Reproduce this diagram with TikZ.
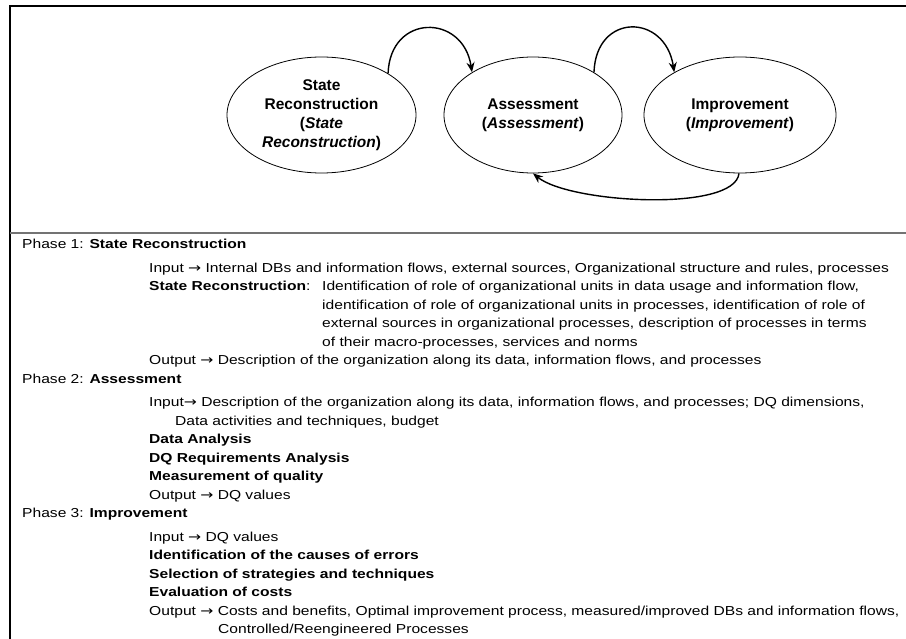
\documentclass[tikz,border=0pt]{standalone}
\usepackage{fontspec}
\setmainfont{Liberation Sans}
\newfontfamily\lowf[FakeStretch=1.2]{Liberation Sans}
\newfontfamily\arrf[FakeStretch=1.2]{DejaVu Sans}
\newcommand{\rarr}{{\arrf →}}
\usetikzlibrary{arrows.meta,shapes.geometric}
\begin{document}
\begin{tikzpicture}[x=1pt,y=1pt,
  frame/.style={line width=1.4pt, black},
  divider/.style={line width=1.6pt, black!55},
  phase/.style={ellipse, draw, line width=0.8pt, inner sep=0pt, minimum height=116pt, align=center, font=\fontsize{15.5}{19}\selectfont\bfseries},
  arr/.style={line width=1.4pt, -{Stealth[length=10pt,width=8pt]}},
  txt/.style={anchor=base west, inner sep=0pt, font=\lowf\fontsize{13}{16}\selectfont},
]
\useasboundingbox (0,0) rectangle (906,-639);
% frame
\coordinate (tl) at (10,-6);
\coordinate (tr) at (906,-6);
\coordinate (bl) at (10,-639);
\coordinate (dl) at (10,-233);
\coordinate (dr) at (906,-233);
\draw[frame] (tr) -- (tl) -- (bl);
\draw[divider] (dl) -- (dr);
% ellipses
\node[phase, minimum width=189pt] (S) at (321.5,-115) {State\\Reconstruction\\(\textit{State}\\\textit{Reconstruction})};
\node[phase, minimum width=178pt] (A) at (533,-115) {Assessment\\(\textit{Assessment})};
\node[phase, minimum width=192pt] (I) at (740,-115) {Improvement\\(\textit{Improvement})};
% arrows
\draw[arr] (S.32) .. controls +(2,60) and +(-9,59) .. (A.145);
\draw[arr] (A.35) .. controls +(2,60) and +(-9,59) .. (I.147);
\draw[arr] (I.-91) .. controls +(-4,-39) and +(37,-30) .. (A.-90);
% text
\node[txt] (l0) at (22,-248.7) {Phase 1: \textbf{State Reconstruction}};
\node[txt] (l1) at (149,-272.2) {Input \rarr{} Internal DBs and information flows, external sources, Organizational structure and rules, processes};
\node[txt] (l2a) at (149,-290.7) {\textbf{State Reconstruction}:};
\node[txt] (l2) at (322,-290.7) {Identification of role of organizational units in data usage and information flow,};
\node[txt] (l3) at (322,-309.2) {identification of role of organizational units in processes, identification of role of};
\node[txt] (l4) at (322,-327.7) {external sources in organizational processes, description of processes in terms};
\node[txt] (l5) at (322,-346.2) {of their macro-processes, services and norms};
\node[txt] (l6) at (149,-364.7) {Output \rarr{} Description of the organization along its data, information flows, and processes};
\node[txt] (l7) at (22,-383.2) {Phase 2: \textbf{Assessment}};
\node[txt] (l8) at (149,-406.7) {Input\rarr{} Description of the organization along its data, information flows, and processes; DQ dimensions,};
\node[txt] (l9) at (175,-425.2) {Data activities and techniques, budget};
\node[txt] (l10) at (149,-443.7) {\textbf{Data Analysis}};
\node[txt] (l11) at (149,-462.2) {\textbf{DQ Requirements Analysis}};
\node[txt] (l12) at (149,-480.7) {\textbf{Measurement of quality}};
\node[txt] (l13) at (149,-499.2) {Output \rarr{} DQ values};
\node[txt] (l14) at (22,-517.7) {Phase 3: \textbf{Improvement}};
\node[txt] (l15) at (149,-541.2) {Input \rarr{} DQ values};
\node[txt] (l16) at (149,-559.7) {\textbf{Identification of the causes of errors}};
\node[txt] (l17) at (149,-578.2) {\textbf{Selection of strategies and techniques}};
\node[txt] (l18) at (149,-596.7) {\textbf{Evaluation of costs}};
\node[txt] (l19) at (149,-615.2) {Output \rarr{} Costs and benefits, Optimal improvement process, measured/improved DBs and information flows,};
\node[txt] (l20) at (218,-633.7) {Controlled/Reengineered Processes};
\end{tikzpicture}
\end{document}
